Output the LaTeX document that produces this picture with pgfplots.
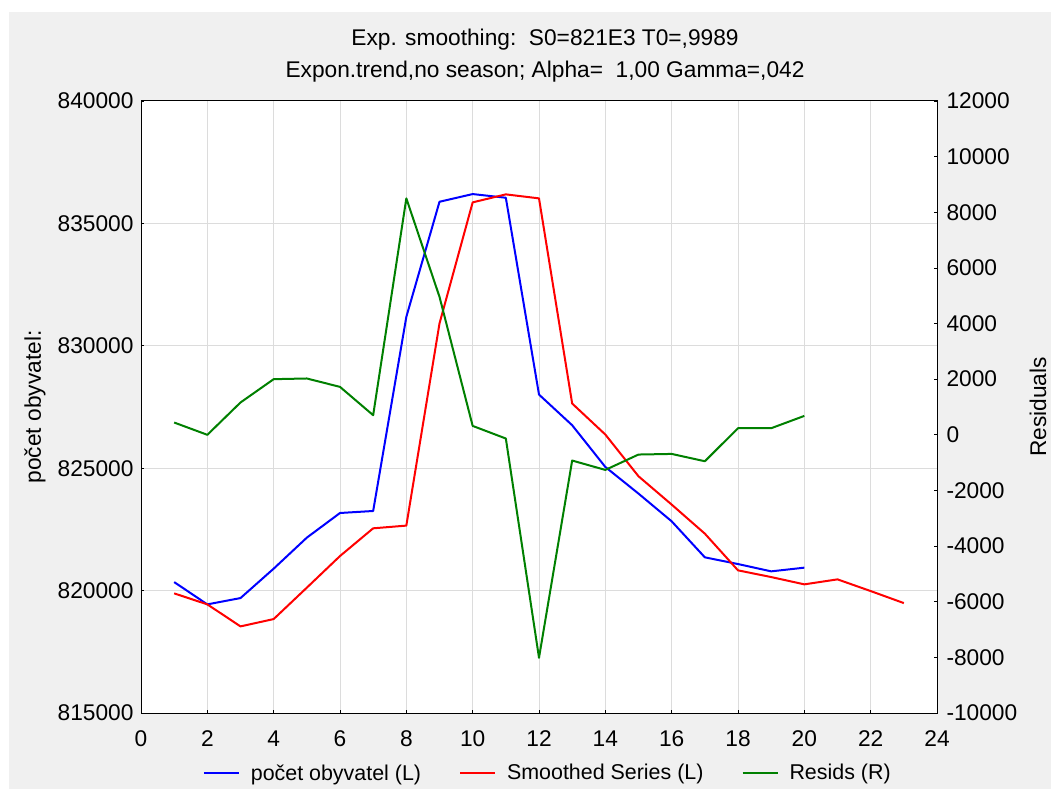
\documentclass[border=0pt]{standalone}
\usepackage{fontspec}
\setmainfont{Liberation Sans}
\usepackage{pgfplots}
\pgfplotsset{compat=1.18}
\definecolor{bggray}{HTML}{F0F0F0}
\definecolor{gridgray}{HTML}{DCDCDC}
\definecolor{pblue}{RGB}{0,0,255}
\definecolor{pred}{RGB}{255,0,0}
\definecolor{pgreen}{RGB}{0,128,0}
\newcommand{\ff}{\fontsize{22.8}{26}\selectfont}
\newcommand{\lf}{\fontsize{21.5}{25}\selectfont}
\begin{document}
\begin{tikzpicture}
\fill[white] (0,0) rectangle (1051bp,789bp);
\useasboundingbox (0,0) rectangle (1051bp,789bp);
\fill[bggray] (9bp,0) rectangle (1051bp,777bp);
\begin{axis}[
  at={(141bp,76bp)}, anchor=south west,
  scale only axis, width=796bp, height=612bp,
  xmin=0, xmax=24, ymin=815000, ymax=840000,
  xtick={0,2,...,24}, ytick={815000,820000,...,840000},
  xtick pos=bottom, ytick pos=left,
  tick align=inside, major tick length=3bp,
  tick style={black, line width=0.8bp},
  grid=major, major grid style={gridgray, line width=1bp},
  axis line style={black, line width=1bp},
  axis background/.style={fill=white},
  scaled y ticks=false,
  yticklabel style={/pgf/number format/fixed, /pgf/number format/set thousands separator={}, xshift=-4bp},
  xticklabel style={yshift=-14bp},
  /pgf/number format/assume math mode=true,
  ticklabel style={font=\ff},
  ylabel={počet obyvatel:},
  ylabel style={at={(axis description cs:-0.1332,0.5)}, anchor=center, font=\ff},
  legend style={at={(0.511,-0.098)}, anchor=center, draw=none, fill=none, font=\lf,
    legend columns=3,
    /tikz/every odd column/.append style={column sep=9bp},
    /tikz/every even column/.append style={column sep=36bp}},
  legend cell align=left,
  legend image code/.code={\draw[#1] (0bp,0bp) -- (35bp,0bp);},
]
\addplot[pblue, line width=2bp, line join=round] coordinates {
(1,820348) (2,819437) (3,819695) (4,820896) (5,822163) (6,823170) (7,823252)
(8,831183) (9,835884) (10,836198) (11,836048) (12,828008) (13,826755)
(14,825050) (15,823962) (16,822830) (17,821359) (18,821085) (19,820786) (20,820937)};
\addlegendentry{počet obyvatel (L)}
\addplot[pred, line width=2bp, line join=round] coordinates {
(1,819887) (2,819437) (3,818538) (4,818837) (5,820120) (6,821412) (7,822544)
(8,822655) (9,830912) (10,835859) (11,836186) (12,836022) (13,827642)
(14,826375) (15,824670) (16,823513) (17,822327) (18,820827) (19,820553)
(20,820255) (21,820459) (22,819981) (23,819490)};
\addlegendentry{Smoothed Series (L)}
\addlegendimage{pgreen, line width=2bp}
\addlegendentry{Resids (R)}
\end{axis}
\begin{axis}[
  at={(141bp,76bp)}, anchor=south west,
  scale only axis, width=796bp, height=612bp,
  xmin=0, xmax=24, ymin=-10000, ymax=12000,
  axis x line=none, axis y line*=right,
  ytick={-10000,-8000,...,12000},
  tick align=inside, major tick length=3bp,
  tick style={black, line width=0.8bp},
  axis line style={black, line width=1bp},
  scaled y ticks=false,
  yticklabel style={/pgf/number format/fixed, /pgf/number format/set thousands separator={}, xshift=6bp},
  /pgf/number format/assume math mode=true,
  ticklabel style={font=\ff},
  ylabel={Residuals},
  ylabel style={at={(axis description cs:1.1269,0.5)}, anchor=center, font=\ff},
]
\addplot[pgreen, line width=2bp, line join=round] coordinates {
(1,442) (2,0) (3,1162) (4,2000) (5,2025) (6,1723) (7,705) (8,8500) (9,4960)
(10,320) (11,-133) (12,-8014) (13,-925) (14,-1262) (15,-709) (16,-687)
(17,-950) (18,237) (19,237) (20,680)};
\end{axis}
\node[font=\ff] at (545bp,749bp) {Exp. smoothing:~~S0=821E3 T0=,9989};
\node[font=\ff] at (545bp,717bp) {Expon.trend,no season; Alpha=~~1,00 Gamma=,042};
\end{tikzpicture}
\end{document}
